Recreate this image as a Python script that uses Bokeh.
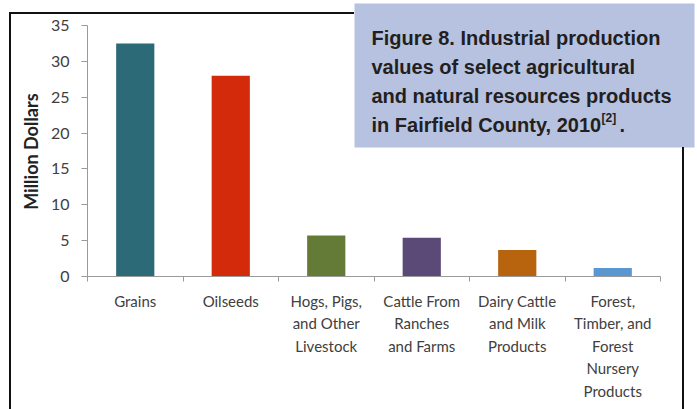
from bokeh.plotting import figure
from bokeh.models import (Range1d, LinearAxis, FixedTicker, Label, BoxAnnotation,
                          ColumnDataSource, InlineStyleSheet)
from bokeh.embed import file_html
from bokeh.resources import INLINE

# Production values (million dollars), Fairfield County, 2010
categories = ["Grains", "Oilseeds", "Hogs, Pigs,\nand Other\nLivestock",
              "Cattle From\nRanches\nand Farms", "Dairy Cattle\nand Milk\nProducts",
              "Forest,\nTimber, and\nForest\nNursery\nProducts"]
values = [32.5, 28.0, 5.7, 5.4, 3.7, 1.2]
colors = ["#2c6a78", "#d42a0c", "#647a37", "#5b4a78", "#b8630e", "#5a96d0"]
y_ticks = [0, 5, 10, 15, 20, 25, 30, 35]

caption_lines = ["Figure 8. Industrial production",
                 "values of select agricultural",
                 "and natural resources products",
                 "in Fairfield County, 2010"]

W, H = 697, 409
TEXT = "#404040"
AXIS = "#9a9a9a"
FONT = "Lato"
CAP_FONT = "Liberation Sans"
CAP_INK = "#231f20"
NBSP = "\u00a0"

# plot area geometry (pixels)
LEFT, BOTTOM = 87, 133
SLOT_PX = 95.5            # width of one category slot
PX_PER_UNIT = 251 / 35    # vertical pixels per million dollars
frame_w = W - LEFT
frame_h = H - BOTTOM

n = len(categories)
slot_centers = [i + 0.5 for i in range(n)]
src = ColumnDataSource(dict(x=slot_centers, val=values, color=colors))

p = figure(width=W, height=H, output_backend="svg", toolbar_location=None,
           x_range=Range1d(0, frame_w / SLOT_PX),
           y_range=Range1d(0, frame_h / PX_PER_UNIT), x_axis_location=None,
           min_border_left=LEFT, min_border_right=0,
           min_border_top=0, min_border_bottom=BOTTOM)
p.outline_line_color = None
p.grid.visible = False
p.background_fill_color = "white"
p.border_fill_color = "white"

p.vbar(x="x", top="val", width=0.4, fill_color="color", line_color=None, source=src)

# y axis
ya = p.yaxis[0]
ya.ticker = FixedTicker(ticks=y_ticks)
ya.bounds = (0, 35)
ya.axis_line_color = AXIS
ya.major_tick_line_color = AXIS
ya.major_tick_out = 6
ya.major_tick_in = 0
ya.minor_tick_line_color = None
ya.major_label_text_font = FONT
ya.major_label_text_font_size = "16px"
ya.major_label_text_color = TEXT
ya.major_label_standoff = 12
# trailing no-break spaces keep the title centred on the 0-35 span
ya.axis_label = "Million Dollars" + NBSP * 6
ya.axis_label_text_font = FONT
ya.axis_label_text_font_style = "bold"
ya.axis_label_text_font_size = "18px"
ya.axis_label_text_color = "#222222"
ya.axis_label_standoff = 6

# x axis: category names at slot centres, small marks between slots
xa = LinearAxis(ticker=FixedTicker(ticks=slot_centers, minor_ticks=list(range(n + 1))),
                bounds=(0, n),
                major_label_overrides={c: lab for c, lab in zip(slot_centers, categories)})
xa.axis_line_color = AXIS
xa.major_tick_line_color = None
xa.major_tick_out = 0
xa.major_tick_in = 0
xa.minor_tick_line_color = AXIS
xa.minor_tick_out = 5
xa.minor_tick_in = 0
xa.major_label_text_font = FONT
xa.major_label_text_font_size = "15px"
xa.major_label_text_color = TEXT
xa.major_label_text_line_height = 1.25
xa.major_label_standoff = 10
p.add_layout(xa, "below")

# caption panel (frame-relative pixels, y measured up from the x axis)
def fx(px):
    return px - LEFT

def fy(py):
    return frame_h - py

p.add_layout(BoxAnnotation(left=fx(354), right=fx(694), top=fy(3), bottom=fy(147),
                           left_units="screen", right_units="screen",
                           top_units="screen", bottom_units="screen",
                           fill_color="#b7c2e1", fill_alpha=1, line_color=None,
                           level="overlay"))
for i, line in enumerate(caption_lines):
    p.add_layout(Label(x=fx(371), y=fy(37 + 29 * i), x_units="screen", y_units="screen",
                       text=line, text_font=CAP_FONT, text_font_style="bold",
                       text_font_size="20px", text_color=CAP_INK,
                       text_baseline="alphabetic", level="overlay"))
p.add_layout(Label(x=fx(601), y=fy(117), x_units="screen", y_units="screen", text="[2]",
                   text_font=CAP_FONT, text_font_style="bold", text_font_size="12px",
                   text_color=CAP_INK, text_baseline="alphabetic", level="overlay"))
p.add_layout(Label(x=fx(619), y=fy(124), x_units="screen", y_units="screen", text=".",
                   text_font=CAP_FONT, text_font_style="bold", text_font_size="20px",
                   text_color=CAP_INK, text_baseline="alphabetic", level="overlay"))

# thin page rule around the figure
p.stylesheets = [InlineStyleSheet(css="""
:host::before { content: ""; position: absolute; left: 9px; top: 12px;
  width: 345px; height: 397px; box-sizing: border-box;
  border-left: 2px solid #111; border-top: 2px solid #111;
  z-index: 10; pointer-events: none; }
:host::after { content: ""; position: absolute; left: 682px; top: 147px;
  width: 2px; height: 262px; background: #111;
  z-index: 10; pointer-events: none; }
""")]

open("out.html", "w").write(file_html(p, INLINE))
